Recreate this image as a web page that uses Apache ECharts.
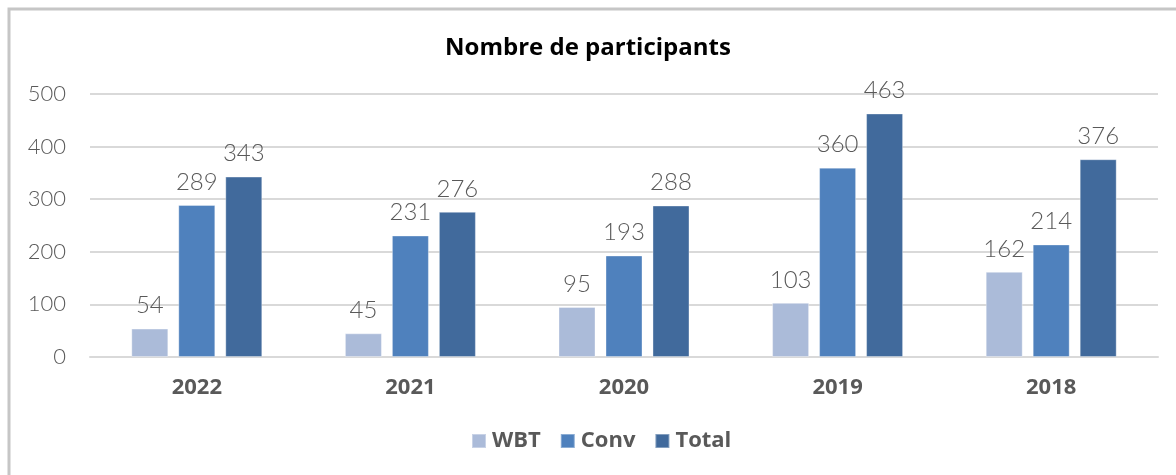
<!DOCTYPE html>
<html>
<head>
<meta charset="utf-8">
<script src="https://cdn.jsdelivr.net/npm/echarts@6/dist/echarts.min.js"></script>
<style>
  html, body { margin: 0; padding: 0; background: #fff; }
  #chart { width: 1176px; height: 475px; }
</style>
</head>
<body>
<div id="chart"></div>
<script>
    var years = ['2022', '2021', '2020', '2019', '2018'];
    var wbt = [54, 45, 95, 103, 162];
    var conv = [289, 231, 193, 360, 214];
    var total = [343, 276, 288, 463, 376];
    var yTicks = [0, 100, 200, 300, 400, 500];

    var chart = echarts.init(document.getElementById('chart'));

    var labelStyle = {
        show: true,
        position: 'top',
        distance: 11,
        fontFamily: 'Lato',
        fontWeight: 300,
        fontSize: 24,
        color: '#595959'
    };

    function bar(name, data, color) {
        return {
            name: name,
            type: 'bar',
            data: data,
            barWidth: 37,
            barGap: '27%',
            itemStyle: { color: color, borderColor: 'rgba(255,255,255,0.35)', borderWidth: 1 },
            label: labelStyle
        };
    }

    var option = {
        animation: false,
        backgroundColor: '#fff',
        title: {
            text: 'Nombre de participants',
            left: 'center',
            top: 31,
            textStyle: { fontFamily: 'Open Sans', fontWeight: 'bold', fontSize: 24, color: '#000' }
        },
        legend: {
            bottom: 18,
            left: 466,
            itemWidth: 14,
            itemHeight: 14,
            itemGap: 19,
            icon: 'rect',
            textStyle: { fontFamily: 'Open Sans', fontWeight: 'bold', fontSize: 22, color: '#595959', padding: [0, 0, 0, 1] }
        },
        grid: { left: 90, right: 18, top: 94, bottom: 118 },
        xAxis: {
            type: 'category',
            data: years,
            axisTick: { show: false },
            axisLine: { lineStyle: { color: '#d9d9d9', width: 2 } },
            axisLabel: { margin: 20, fontFamily: 'Open Sans', fontWeight: 'bold', fontSize: 22, color: '#595959' }
        },
        yAxis: {
            type: 'value',
            min: yTicks[0],
            max: yTicks[yTicks.length - 1],
            interval: 100,
            axisLine: { show: false },
            axisTick: { show: false },
            splitLine: { lineStyle: { color: '#d9d9d9', width: 2 } },
            axisLabel: { margin: 24, fontFamily: 'Lato', fontWeight: 300, fontSize: 22, color: '#595959' }
        },
        graphic: [{
            type: 'polyline',
            shape: { points: [[9, 475], [9, 9], [1176, 9]] },
            style: { stroke: '#c6c6c6', lineWidth: 3, fill: null }
        }],
        series: [
            bar('WBT', wbt, '#abbbd9'),
            bar('Conv', conv, '#4f81bd'),
            bar('Total', total, '#416a9c')
        ]
    };

    chart.setOption(option);
</script>
</body>
</html>
